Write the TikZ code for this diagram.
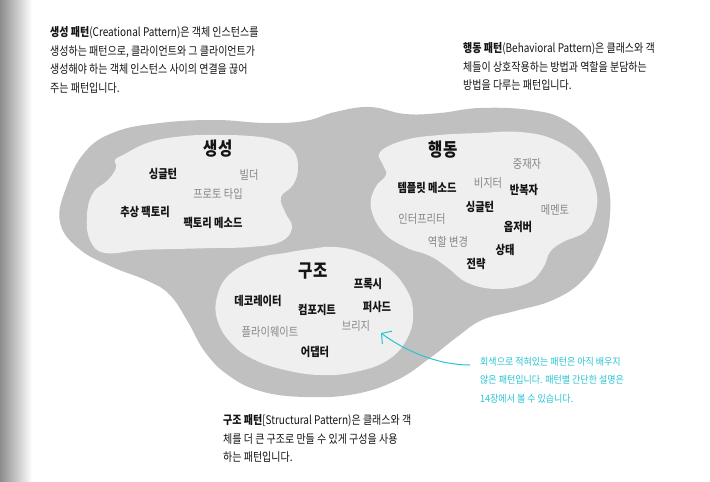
\documentclass[tikz,border=0pt]{standalone}
\usepackage{fontspec}
\setmainfont{Noto Sans CJK KR}[FakeStretch=0.84]
\newfontfamily\notefont{Noto Sans CJK KR}[FakeStretch=0.9]
\usepackage{tikz}
\usetikzlibrary{arrows.meta}
\definecolor{blobgray}{RGB}{192,192,192}
\definecolor{blobfill}{RGB}{239,239,239}
\definecolor{txtdark}{RGB}{20,20,20}
\definecolor{txtgray}{RGB}{135,135,135}
\definecolor{notecyan}{RGB}{40,196,212}
\tikzset{
  outerblob/.style = {fill=blobgray, draw=none},
  innerblob/.style = {fill=blobfill, draw=none},
  grp/.style = {
    font=\fontsize{18.5}{21}\selectfont\bfseries,
    text=txtdark, inner sep=0pt
  },
  pat/.style = {
    font=\fontsize{12.2}{14}\selectfont\bfseries,
    text=txtdark, inner sep=0pt
  },
  patgray/.style = {
    font=\fontsize{12.2}{14}\selectfont,
    text=txtgray, inner sep=0pt
  },
  para/.style = {
    font=\fontsize{11.9}{18.8}\selectfont, text=txtdark,
    align=left, anchor=north west, inner sep=0pt
  },
  note/.style = {
    font=\notefont\fontsize{10}{18.5}\selectfont, text=notecyan,
    align=left, anchor=north west, inner sep=0pt
  },
  arrcyan/.style = {-{Straight Barb[length=7pt,width=16pt]}, draw=notecyan, line width=1pt},
}

\begin{document}
\begin{tikzpicture}[x=1pt, y=-1pt]

  \useasboundingbox (0,0) rectangle (710,482);
  \fill[white] (0,0) rectangle (710,482);
  \shade[left color=black!45, right color=white] (0,0) rectangle (32,482);

  % big gray blob
  \fill[outerblob] plot[smooth cycle, tension=0.7] coordinates {
    (60,222) (66,188) (85,152) (115,132) (160,123) (215,120) (265,123)
    (305,121) (335,112) (370,107) (405,114) (440,113) (480,108) (530,110)
    (565,120) (592,145) (607,180) (610,215) (602,250) (583,280) (553,300)
    (515,311) (482,320) (457,337) (430,358) (397,380) (355,394) (305,397)
    (260,391) (228,375) (205,352) (188,322) (170,295) (148,281) (110,266)
    (78,248)};

  % creational
  \fill[innerblob] plot[smooth cycle, tension=0.7] coordinates {
    (123,155) (150,142) (185,136) (217,135) (250,136) (275,140) (293,150)
    (298,168) (293,185) (281,197) (285,212) (292,228) (280,242) (250,247)
    (215,248) (175,249) (140,250) (105,253) (90,240) (87,215) (93,193)
    (108,180) (116,168) (115,160)};

  % behavioral
  \fill[innerblob] plot[smooth cycle, tension=0.7] coordinates {
    (380,152) (405,140) (440,135) (480,133) (520,132) (555,140) (582,160)
    (596,190) (595,215) (585,232) (563,242) (550,252) (543,268) (528,283)
    (498,289) (468,283) (448,268) (430,256) (405,247) (383,232) (371,208)
    (375,188) (386,175) (383,165)};

  % structural
  \fill[innerblob] plot[smooth cycle, tension=0.7] coordinates {
    (260,258) (285,253) (310,249) (335,247) (362,253) (387,267) (405,287)
    (413,310) (408,337) (388,360) (355,372) (320,375) (285,370) (255,360)
    (233,345) (218,322) (217,297) (230,274)};

  \node[grp] (crtitle) at (218,149) {생성};
  \node[pat] (crsingle) at (163,174) {싱글턴};
  \node[patgray] (crbuilder) at (249,175) {빌더};
  \node[patgray] (crproto) at (218,194) {프로토 타입};
  \node[pat] (crabsfac) at (145,212) {추상 팩토리};
  \node[pat] (crfacmeth) at (213,223) {팩토리 메소드};

  \node[grp] (bhtitle) at (443,150) {행동};
  \node[patgray] (bhmediator) at (527,164) {중재자};
  \node[patgray] (bhvisitor) at (488,183) {비지터};
  \node[pat] (bhtemplate) at (427,188) {템플릿 메소드};
  \node[pat] (bhiterator) at (524,190) {반복자};
  \node[pat] (bhsingle) at (480,207) {싱글턴};
  \node[patgray] (bhmemento) at (555,210) {메멘토};
  \node[patgray] (bhinterp) at (422,219) {인터프리터};
  \node[pat] (bhobserver) at (518,227) {옵저버};
  \node[patgray] (bhrole) at (448,242) {역할 변경};
  \node[pat] (bhstate) at (505,250) {상태};
  \node[pat] (bhstrategy) at (476,264) {전략};

  \node[grp] (sttitle) at (313,271) {구조};
  \node[pat] (stproxy) at (368,284) {프록시};
  \node[pat] (stdecor) at (258,301) {데코레이터};
  \node[pat] (stcomp) at (317,310) {컴포지트};
  \node[pat] (stfacade) at (377,307) {퍼사드};
  \node[patgray] (stbridge) at (356,326) {브리지};
  \node[patgray] (stfly) at (270,332) {플라이웨이트};
  \node[pat] (stadapter) at (315,352) {어댑터};

  \node[para] (crtext) at (50,26) {{\bfseries 생성 패턴}(Creational Pattern)은 객체 인스턴스를\\
    생성하는 패턴으로, 클라이언트와 그 클라이언트가\\
    생성해야 하는 객체 인스턴스 사이의 연결을 끊어\\
    주는 패턴입니다.};
  \node[para] (bhtext) at (463,42) {{\bfseries 행동 패턴}(Behavioral Pattern)은 클래스와 객\\
    체들이 상호작용하는 방법과 역할을 분담하는\\
    방법을 다루는 패턴입니다.};
  \node[para] (sttext) at (223,414) {{\bfseries 구조 패턴}[Structural Pattern)은 클래스와 객\\
    체를 더 큰 구조로 만들 수 있게 구성을 사용\\
    하는 패턴입니다.};

  \node[note] (graynote) at (480,357) {회색으로 적혀있는 패턴은 아직 배우지\\
    않은 패턴입니다. 패턴별 간단한 설명은\\
    14장에서 볼 수 있습니다.};

  \coordinate (noteend) at (470,365);
  \coordinate (bridgetip) at (381,333);
  \draw[arrcyan] (noteend) .. controls +(-32,0) and +(24,18) .. (bridgetip);

\end{tikzpicture}
\end{document}
